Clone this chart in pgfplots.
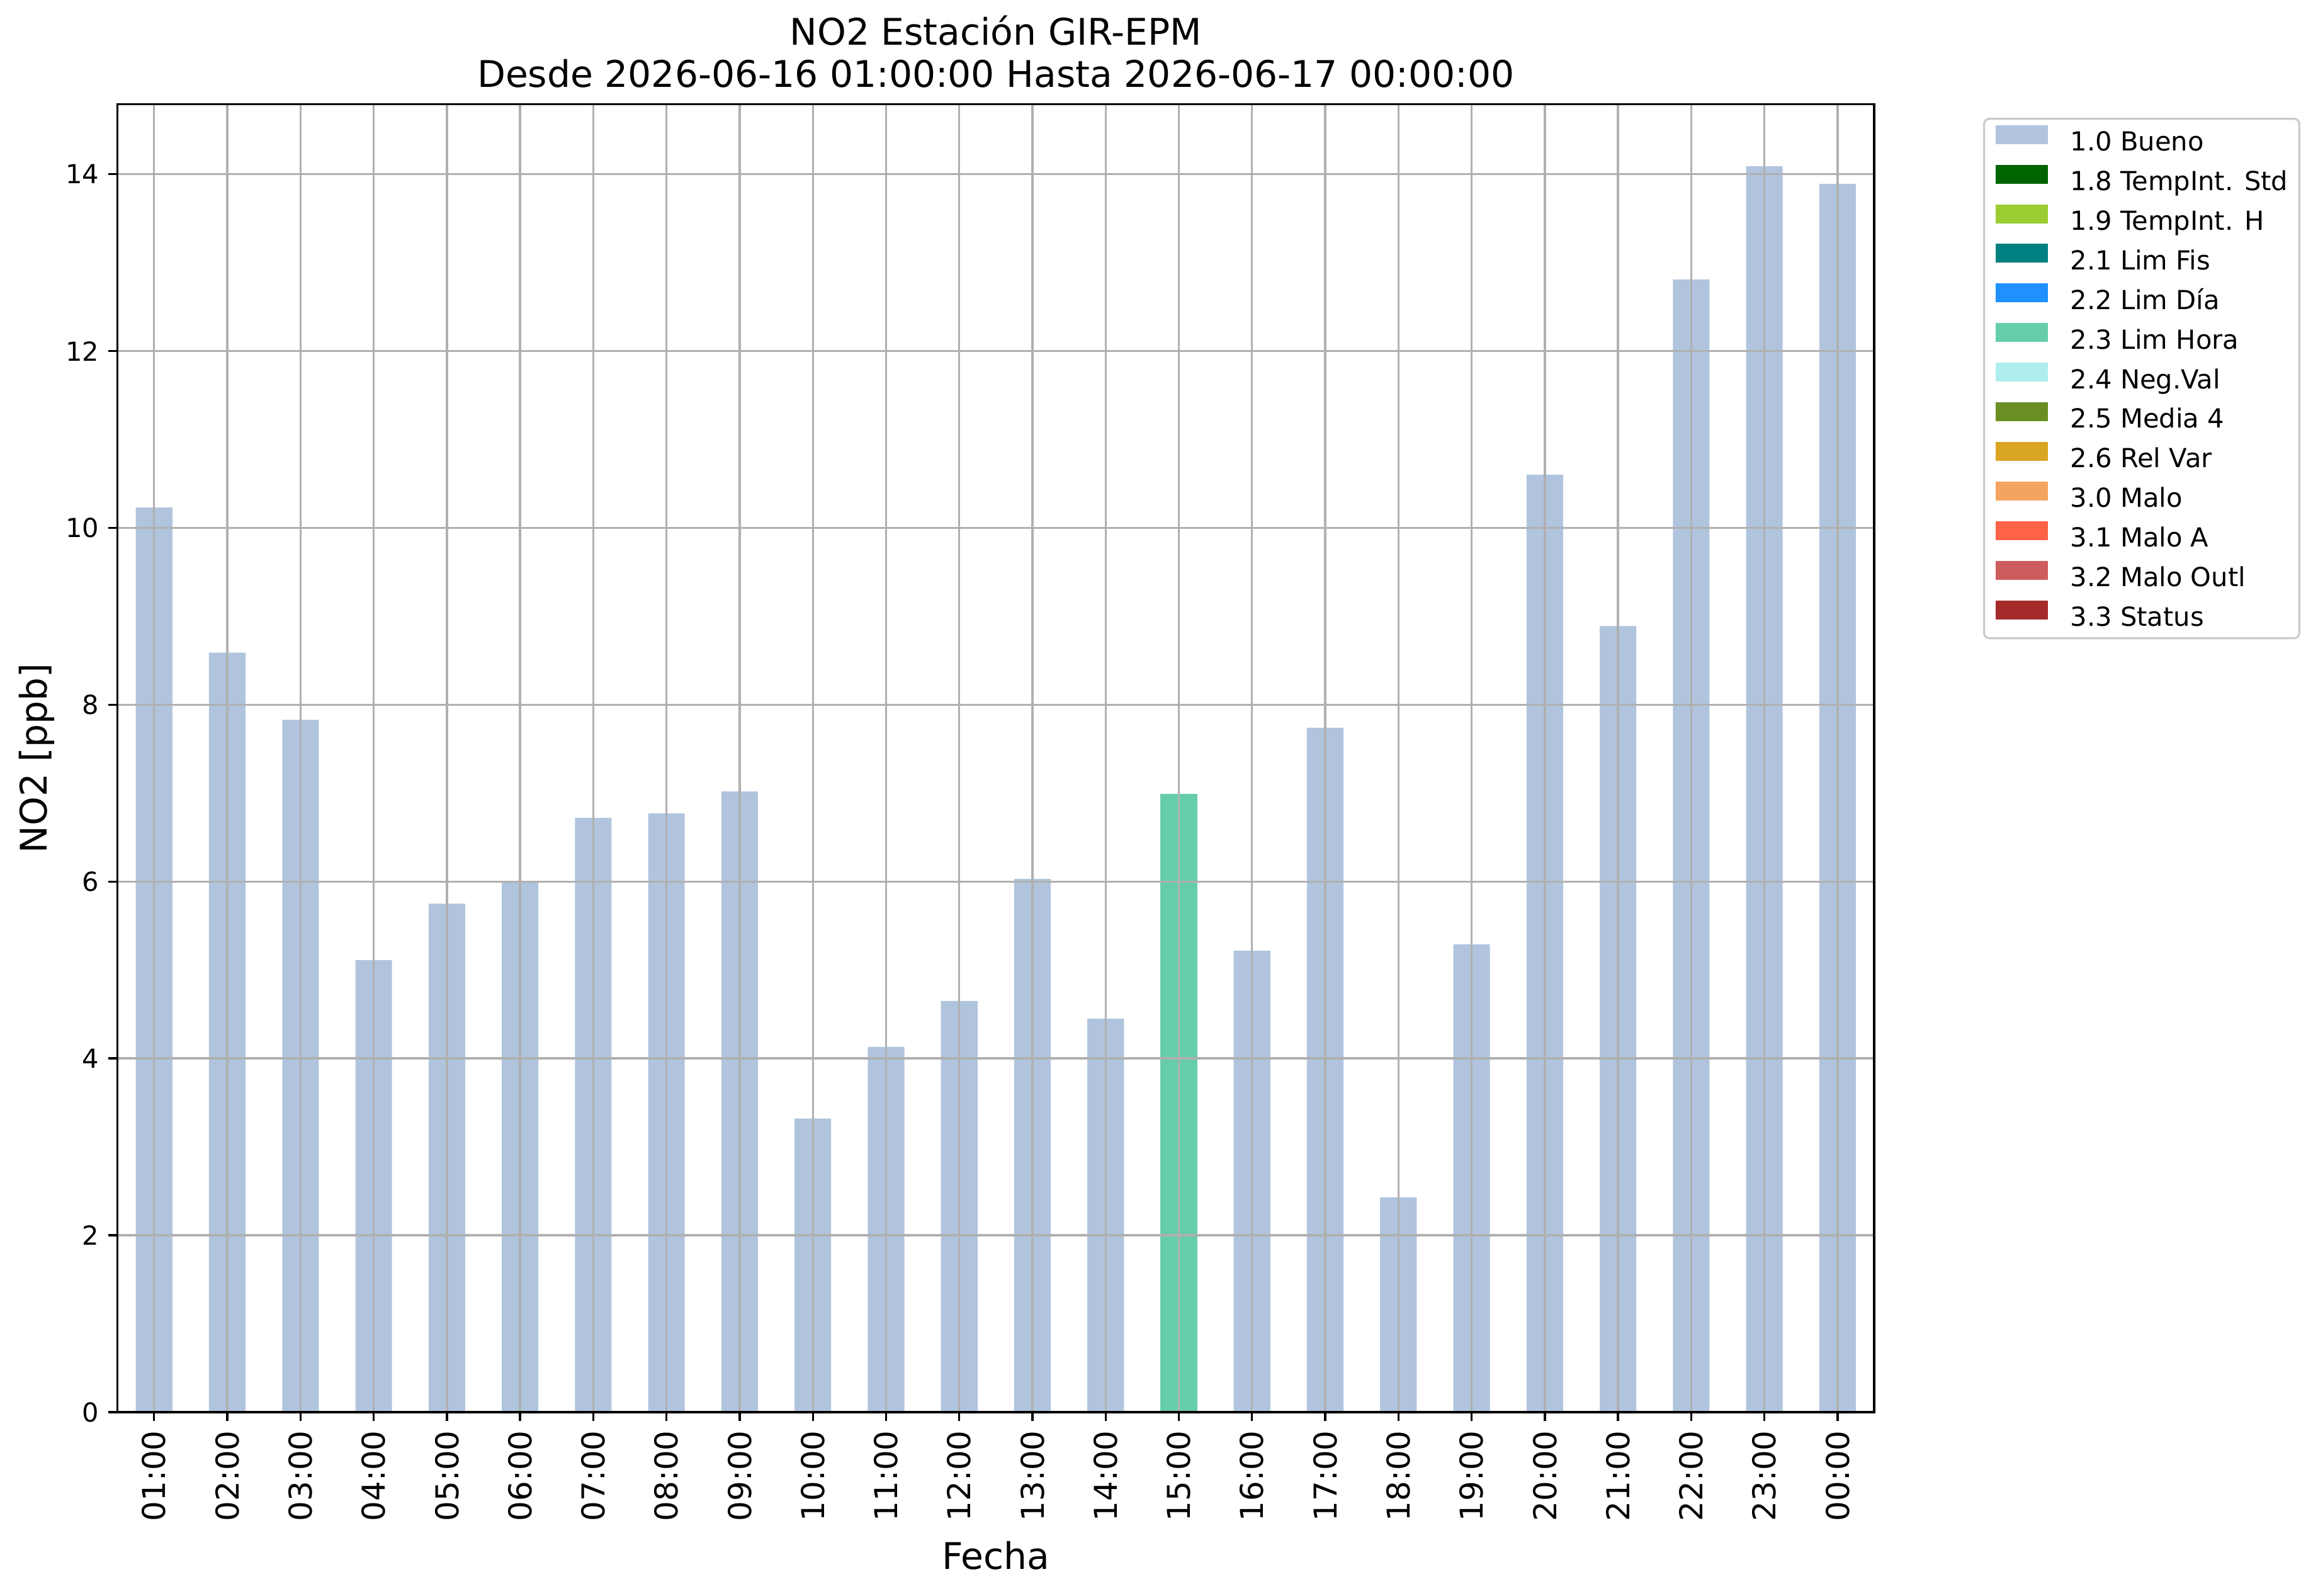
\documentclass[border=0pt]{standalone}
\usepackage{fontspec}
\setmainfont{DejaVu Sans}
\usepackage{pgfplots}
\pgfplotsset{compat=1.18}
\definecolor{c10}{HTML}{B0C4DE}
\definecolor{c18}{HTML}{006400}
\definecolor{c19}{HTML}{9ACD32}
\definecolor{c21}{HTML}{008080}
\definecolor{c22}{HTML}{1E90FF}
\definecolor{c23}{HTML}{66CDAA}
\definecolor{c24}{HTML}{AFEEEE}
\definecolor{c25}{HTML}{6B8E23}
\definecolor{c26}{HTML}{DAA520}
\definecolor{c30}{HTML}{F4A460}
\definecolor{c31}{HTML}{FF6347}
\definecolor{c32}{HTML}{CD5C5C}
\definecolor{c33}{HTML}{A52A2A}
\definecolor{gridgray}{HTML}{B0B0B0}
\definecolor{legendgray}{HTML}{CCCCCC}
\newcommand{\lgimg}[1]{\addlegendimage{legend image code/.code={\fill[fill=#1,draw=none,sharp corners] (0pt,0pt) rectangle (20pt,7.2pt);}}}
\begin{document}
\begin{tikzpicture}
\path[use as bounding box] (-44.8pt,-69.9pt) rectangle (838.9pt,538.3pt);
\begin{axis}[
  at={(0,0)}, anchor=south west,
  scale only axis, width=669.7pt, height=498.5pt,
  xmin=-0.5, xmax=23.5, ymin=0, ymax=14.79,
  xtick={0,1,2,3,4,5,6,7,8,9,10,11,12,13,14,15,16,17,18,19,20,21,22,23},
  xticklabels={01:00,02:00,03:00,04:00,05:00,06:00,07:00,08:00,09:00,10:00,11:00,12:00,13:00,14:00,15:00,16:00,17:00,18:00,19:00,20:00,21:00,22:00,23:00,00:00},
  ytick={0,2,4,6,8,10,12,14},
  grid=major,
  grid style={color=gridgray, line width=0.8pt},
  axis line style={line width=0.8pt, black},
  tick style={line width=0.8pt, black},
  major tick length=3.5pt, tick align=outside, tick pos=left,
  axis on top,
  /pgf/number format/assume math mode=true,
  yticklabel style={font=\fontsize{10}{12}\selectfont},
  xticklabel style={font=\fontsize{12}{14.4}\selectfont, rotate=90, anchor=east},
  title={NO2 Estación GIR-EPM\\Desde 2026-06-16 01:00:00 Hasta 2026-06-17 00:00:00},
  title style={at={(0.5,1)}, anchor=south, yshift=0.1pt, inner sep=0pt, align=center, font=\fontsize{14}{16.1}\selectfont},
  xlabel={Fecha},
  xlabel style={at={(axis description cs:0.5,0)}, anchor=base, yshift=-59.8pt, font=\fontsize{14}{16.8}\selectfont},
  ylabel={NO2 [ppb]},
  ylabel style={at={(axis description cs:-0.0403,0.5)}, anchor=base, font=\fontsize{14}{16.8}\selectfont},
  legend cell align=left,
  legend style={at={(1,1)}, anchor=north west, xshift=41.5pt, yshift=-5.1pt,
    draw=legendgray, line width=0.8pt, rounded corners=2pt, fill=white,
    inner xsep=4.3pt, inner ysep=2.4pt,
    font=\fontsize{10}{12}\selectfont,
    row sep=3.1pt, column sep=8.6pt,
    nodes={inner sep=0pt, text height=7.4pt, text depth=2.2pt}},
]
\addplot[ybar, bar width=0.5, bar shift=0pt, fill=c10, draw=none, forget plot] coordinates {
(0,10.23) (1,8.59) (2,7.83) (3,5.11) (4,5.75) (5,6.00) (6,6.72) (7,6.77) (8,7.02) (9,3.32)
(10,4.13) (11,4.65) (12,6.03) (13,4.45) (15,5.22) (16,7.74) (17,2.43) (18,5.29)
(19,10.60) (20,8.89) (21,12.81) (22,14.09) (23,13.89)};
\addplot[ybar, bar width=0.5, bar shift=0pt, fill=c23, draw=none, forget plot] coordinates {(14,6.99)};
\lgimg{c10}\addlegendentry{1.0 Bueno}
\lgimg{c18}\addlegendentry{1.8 TempInt. Std}
\lgimg{c19}\addlegendentry{1.9 TempInt. H}
\lgimg{c21}\addlegendentry{2.1 Lim Fis}
\lgimg{c22}\addlegendentry{2.2 Lim Día}
\lgimg{c23}\addlegendentry{2.3 Lim Hora}
\lgimg{c24}\addlegendentry{2.4 Neg.Val}
\lgimg{c25}\addlegendentry{2.5 Media 4}
\lgimg{c26}\addlegendentry{2.6 Rel Var}
\lgimg{c30}\addlegendentry{3.0 Malo}
\lgimg{c31}\addlegendentry{3.1 Malo A}
\lgimg{c32}\addlegendentry{3.2 Malo Outl}
\lgimg{c33}\addlegendentry{3.3 Status}
\end{axis}
\end{tikzpicture}
\end{document}
